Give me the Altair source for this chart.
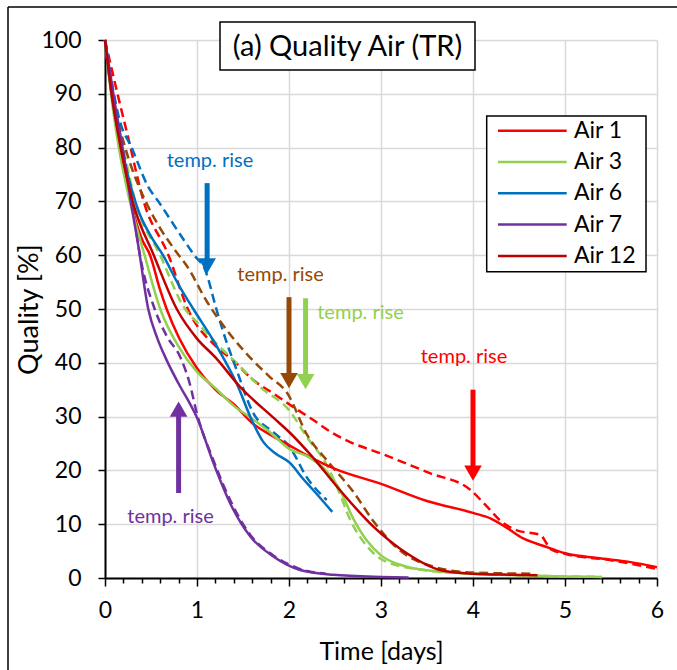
import altair as alt
import pandas as pd

FONT = "Lato"

series_names = ["Air 1", "Air 3", "Air 6", "Air 7", "Air 12"]
solid_colors = ["#FF0000", "#92D050", "#0070C0", "#7030A0", "#C00000"]
dashed_colors = ["#FF0000", "#92D050", "#0070C0", "#7030A0", "#974806"]

# ---- solid curves (time in days, quality in %) ----
air1_t = [0, 0.08, 0.17, 0.28, 0.4, 0.49, 0.6, 0.67, 0.8, 1.0, 1.2, 1.4, 1.6, 1.8, 2.0, 2.25, 2.5, 3.0, 3.5, 4.0, 4.2, 4.37, 4.54, 4.76, 5.0, 5.35, 5.7, 6.0]
air1_q = [100, 89, 80, 70, 63, 60, 53.5, 50, 44.8, 39, 35, 32.3, 28.8, 26.6, 24.7, 22.3, 20.3, 17.5, 14.3, 12.1, 11, 9.3, 7.4, 6, 4.6, 3.7, 3.0, 2.0]

air3_t = [0, 0.08, 0.15, 0.27, 0.43, 0.6, 0.8, 1.0, 1.2, 1.4, 1.6, 1.8, 2.0, 2.2, 2.4, 2.55, 2.7, 2.84, 3.0, 3.28, 3.64, 4.0, 4.5, 5.0, 5.4]
air3_q = [100, 88, 80, 70, 60, 50, 43, 38.3, 35.3, 32, 29.6, 27, 24, 22.6, 20, 16.5, 11, 7.1, 4.2, 2.1, 1.2, 0.8, 0.5, 0.3, 0.2]

air6_t = [0, 0.08, 0.18, 0.36, 0.5, 0.63, 0.8, 0.96, 1.2, 1.43, 1.61, 1.72, 1.85, 2.01, 2.15, 2.26, 2.47]
air6_q = [100, 89, 80, 68.4, 63.5, 60, 54.5, 50, 43.5, 36.2, 28.8, 25.3, 23.2, 21.4, 18.5, 16.4, 12.3]

air7_t = [0, 0.1, 0.2, 0.28, 0.36, 0.47, 0.57, 0.67, 0.82, 0.92, 1.0, 1.18, 1.36, 1.58, 1.83, 2.12, 2.48, 3.0, 3.3]
air7_q = [100, 89, 79, 70, 62, 50, 44.5, 40.5, 35.5, 32.5, 29.8, 21.3, 13.9, 7.7, 4.0, 1.5, 0.6, 0.2, 0.1]

air12_t = [0, 0.08, 0.17, 0.3, 0.53, 0.78, 1.0, 1.2, 1.47, 1.83, 2.01, 2.25, 2.55, 2.92, 3.28, 3.64, 4.0, 4.4, 4.7]
air12_q = [100, 89, 80, 70, 60, 50, 44.5, 41, 35.5, 29.8, 27, 22.6, 16.4, 9.5, 4.6, 1.5, 0.8, 0.6, 0.5]

# ---- dashed curves ----
air1d_t = [0, 0.15, 0.25, 0.42, 0.69, 0.9, 1.21, 1.39, 1.61, 1.83, 2.01, 2.26, 2.45, 2.66, 2.99, 3.53, 3.97, 4.15, 4.33, 4.47, 4.73, 4.85, 5.0, 5.5, 6.0]
air1d_q = [100, 89, 82, 70, 60, 50, 43, 40.5, 36.8, 34.3, 32.2, 29.4, 27.2, 25.3, 23.2, 19.5, 16.4, 13.3, 10.2, 8.9, 8.0, 5.3, 4.5, 3.3, 1.7]

air3d_t = [0, 0.1, 0.2, 0.33, 0.6, 0.87, 1.0, 1.21, 1.47, 1.68, 2.01, 2.19, 2.41, 2.55, 2.66, 2.77, 2.92, 3.06, 3.46, 4.0, 4.5, 5.0, 5.4]
air3d_q = [100, 89, 80, 70, 60, 50, 47.5, 43.6, 39.3, 35.6, 31, 26.3, 21, 15.8, 11, 7.7, 4.6, 3.0, 1.5, 0.8, 0.5, 0.3, 0.2]

air6d_t = [0, 0.16, 0.29, 0.47, 0.58, 0.85, 0.97, 1.09, 1.21, 1.28, 1.43, 1.61, 1.83, 2.01, 2.19, 2.41]
air6d_q = [100, 85, 80, 72.7, 70, 63, 60, 57.2, 50, 46, 38.7, 30.7, 27.1, 24.3, 18.8, 14.5]

air7d_t = [0, 0.1, 0.2, 0.3, 0.38, 0.54, 0.67, 0.82, 0.92, 1.0, 1.18, 1.36, 1.58, 1.83, 2.1, 2.4]
air7d_q = [100, 88, 79, 69, 60, 50, 45, 41, 36.2, 30.5, 21.8, 14.5, 8, 4.2, 1.8, 0.8]

air12d_t = [0, 0.1, 0.22, 0.47, 0.6, 0.78, 0.89, 1.11, 1.35, 1.56, 1.79, 1.98, 2.2, 2.43, 2.7, 2.92, 3.2, 3.57, 4.0, 4.65]
air12d_q = [100, 88, 80, 69, 65, 60.5, 58, 51.3, 45.5, 41.3, 37.4, 34.4, 26.5, 21.5, 16, 10.5, 5.2, 2.1, 1.0, 0.8]

# ---- "temp. rise" annotations ----
arrow_names = ["Air 6", "Air 12", "Air 3", "Air 1", "Air 7"]
arrow_colors = ["#0070C0", "#974806", "#92D050", "#FF0000", "#7030A0"]
arrow_x = [1.11, 2.0, 2.18, 4.0, 0.8]
arrow_from = [73.4, 52.2, 52.0, 35.0, 15.8]
arrow_to = [56.7, 35.4, 35.2, 18.2, 32.7]
arrow_dir = ["down", "down", "down", "down", "up"]
label_x = [1.141, 1.908, 2.777, 3.902, 0.712]
label_y = [77.6, 56.3, 49.3, 41.1, 11.4]
label_text = "temp. rise"

solid_sets = [(air1_t, air1_q), (air3_t, air3_q), (air6_t, air6_q), (air7_t, air7_q), (air12_t, air12_q)]
dashed_sets = [(air1d_t, air1d_q), (air3d_t, air3d_q), (air6d_t, air6d_q), (air7d_t, air7d_q), (air12d_t, air12d_q)]

rows = []
for name, (ts, qs) in zip(series_names, solid_sets):
    for t, q in zip(ts, qs):
        rows.append({"series": name, "t": t, "q": q})
solid_df = pd.DataFrame(rows)

rows = []
for name, (ts, qs) in zip(series_names, dashed_sets):
    for t, q in zip(ts, qs):
        rows.append({"series": name, "t": t, "q": q})
dashed_df = pd.DataFrame(rows)

arrows_df = pd.DataFrame({"name": arrow_names, "x": arrow_x, "y0": arrow_from,
                          "y1": arrow_to, "dir": arrow_dir, "lx": label_x, "ly": label_y,
                          "label": [label_text] * 5})

is_int = "abs(datum.value - round(datum.value)) < 0.001"
x_ticks = [round(i * 0.2, 1) for i in range(31)]

x_enc = alt.X("t:Q", scale=alt.Scale(domain=[0, 6], nice=False),
              axis=alt.Axis(values=x_ticks, tickCount=100,
                            labelExpr=f"{is_int} ? format(datum.value, 'd') : ''",
                            labelOverlap=False, labelFlush=False,
                            tickSize={"condition": {"test": is_int, "value": 8}, "value": 5},
                            gridOpacity={"condition": {"test": is_int, "value": 1}, "value": 0},
                            title="Time [days]", labelPadding=13, titlePadding=17))
y_enc = alt.Y("q:Q", scale=alt.Scale(domain=[0, 100], nice=False),
              axis=alt.Axis(values=list(range(0, 101, 10)), tickCount=100, tickSize=7,
                            labelFlush=False, labelOverlap=False,
                            title="Quality [%]", titleFontSize=27,
                            labelPadding=17, titlePadding=-3))

solid_color = alt.Color("series:N", scale=alt.Scale(domain=series_names, range=solid_colors), legend=None)
dashed_color = alt.Color("series:N", scale=alt.Scale(domain=series_names, range=dashed_colors), legend=None)
arrow_color = alt.Color("name:N", scale=alt.Scale(domain=arrow_names, range=arrow_colors), legend=None)

dashed = alt.Chart(dashed_df).mark_line(strokeWidth=2.5, strokeDash=[9, 5], interpolate="monotone").encode(
    x=x_enc, y=y_enc, color=dashed_color, detail="series:N")
solid = alt.Chart(solid_df).mark_line(strokeWidth=2.5, interpolate="monotone").encode(
    x="t:Q", y="q:Q", color=solid_color, detail="series:N")

base_a = alt.Chart(arrows_df)
shaft_down = base_a.transform_filter("datum.dir == 'down'").mark_rule(strokeWidth=5, y2Offset=-9).encode(
    x="x:Q", y="y0:Q", y2="y1:Q", color=arrow_color)
shaft_up = base_a.transform_filter("datum.dir == 'up'").mark_rule(strokeWidth=5, y2Offset=9).encode(
    x="x:Q", y="y0:Q", y2="y1:Q", color=arrow_color)
head_down = base_a.transform_filter("datum.dir == 'down'").mark_point(
    shape="triangle-down", filled=True, size=310, opacity=1, yOffset=-7).encode(
    x="x:Q", y="y1:Q", color=arrow_color)
head_up = base_a.transform_filter("datum.dir == 'up'").mark_point(
    shape="triangle-up", filled=True, size=310, opacity=1, yOffset=7).encode(
    x="x:Q", y="y1:Q", color=arrow_color)
labels = base_a.mark_text(font=FONT, fontSize=20, align="center", baseline="middle").encode(
    x="lx:Q", y="ly:Q", text="label:N", color=arrow_color)

# ---- outer frame (left and top edges), title box, legend ----
one = pd.DataFrame({"k": [0]})
frame_left = alt.Chart(one).mark_rule(color="black", strokeWidth=1.5).encode(
    x=alt.value(-97), y=alt.value(-33), y2=alt.value(700))
frame_top = alt.Chart(one).mark_rule(color="black", strokeWidth=1.5).encode(
    x=alt.value(-97), x2=alt.value(700), y=alt.value(-33))
title_box = alt.Chart(one).mark_rect(fill="white", stroke="black", strokeWidth=1.5).encode(
    x=alt.value(115), x2=alt.value(370), y=alt.value(-18), y2=alt.value(30))
title_text = alt.Chart(one).mark_text(font=FONT, fontSize=29, align="center", baseline="middle").encode(
    x=alt.value(242.5), y=alt.value(6.5), text=alt.value("(a) Quality Air (TR)"))

leg_top = 90.7
leg_step = 31.3
legend_df = pd.DataFrame({"series": series_names,
                          "ypix": [leg_top + i * leg_step for i in range(len(series_names))]})
legend_box = alt.Chart(one).mark_rect(fill="white", stroke="black", strokeWidth=1.5).encode(
    x=alt.value(381.7), x2=alt.value(541), y=alt.value(76), y2=alt.value(231.7))
legend_lines = alt.Chart(legend_df).mark_rule(strokeWidth=2.5).encode(
    x=alt.value(393), x2=alt.value(461.7), y=alt.Y("ypix:Q", scale=None), color=solid_color)
legend_text = alt.Chart(legend_df).mark_text(font=FONT, fontSize=23, align="left", baseline="middle").encode(
    x=alt.value(469), y=alt.Y("ypix:Q", scale=None), text="series:N")

chart = alt.layer(
    dashed, solid, shaft_down, shaft_up, head_down, head_up, labels,
    frame_left, frame_top, title_box, title_text, legend_box, legend_lines, legend_text
).resolve_scale(color="independent").properties(
    width=552, height=538,
    autosize=alt.AutoSizeParams(type="none"),
    padding={"left": 105, "top": 40, "right": 20, "bottom": 92},
    background="white"
).configure_view(stroke=None).configure_axis(
    labelFont=FONT, titleFont=FONT, labelFontSize=23, titleFontSize=25,
    titleFontWeight="normal", labelColor="black", titleColor="black",
    domainColor="black", domainWidth=2, tickColor="black", tickWidth=1.5,
    gridColor="#D9D9D9", gridWidth=1.5
)

chart.save("out.html", embed_options={"renderer": "svg", "actions": False})
